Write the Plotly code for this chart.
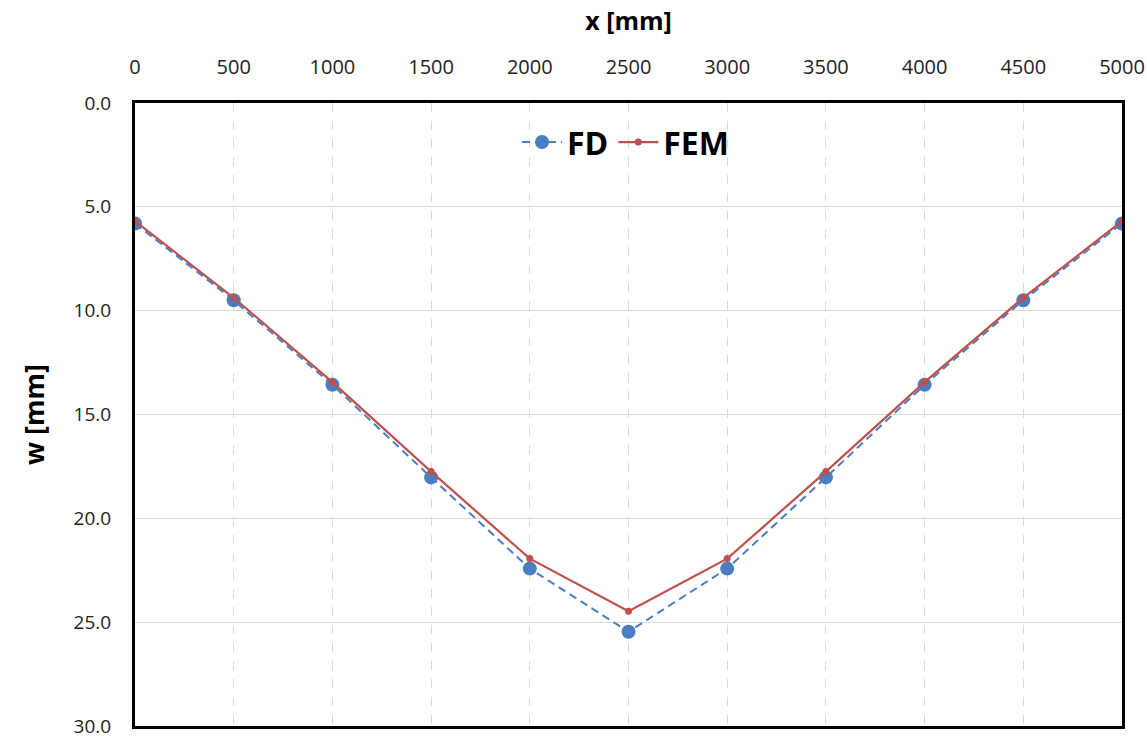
import plotly.graph_objects as go

# Deflection along the span
x_mm = [0, 500, 1000, 1500, 2000, 2500, 3000, 3500, 4000, 4500, 5000]
w_fd = [5.80, 9.50, 13.57, 18.03, 22.42, 25.46, 22.42, 18.03, 13.57, 9.50, 5.80]
w_fem = [5.69, 9.38, 13.44, 17.75, 21.94, 24.47, 21.94, 17.75, 13.44, 9.38, 5.69]

x_ticks = list(range(0, 5001, 500))
y_ticks = [0, 5, 10, 15, 20, 25, 30]
y_ticklabels = [f"{v:.1f}" for v in y_ticks]

FONT = "Open Sans, Lato, Liberation Sans, sans-serif"
BLUE = "#4A7EC2"
RED = "#C0504D"

fig = go.Figure()
fig.add_trace(go.Scatter(
    x=x_mm, y=w_fd, name="FD", mode="lines+markers",
    line=dict(color=BLUE, width=2, dash="8px,5px"),
    marker=dict(color=BLUE, size=14),
))
fig.add_trace(go.Scatter(
    x=x_mm, y=w_fem, name="FEM", mode="lines+markers",
    line=dict(color=RED, width=2.2),
    marker=dict(color=RED, size=7),
))

fig.update_layout(
    width=1147, height=736,
    margin=dict(l=135, r=25, t=103, b=10, autoexpand=False),
    paper_bgcolor="white", plot_bgcolor="white",
    font=dict(family=FONT, color="#222", size=20),
    showlegend=True,
    legend=dict(
        orientation="h", x=0.497, y=0.937, xanchor="center", yanchor="middle",
        font=dict(size=32, family=FONT, color="black", weight="bold"),
        bgcolor="rgba(0,0,0,0)", itemwidth=40, traceorder="normal",
    ),
    xaxis=dict(
        side="top", range=[0, 5000], tickvals=x_ticks,
        showgrid=True, gridcolor="#D9D9D9", griddash="dash", gridwidth=1,
        showline=True, linecolor="black", linewidth=3, mirror=True,
        zeroline=False, ticks="", ticklabelstandoff=18,
        ticklabeloverflow="allow",
        tickfont=dict(size=20),
        title=dict(text="x [mm]", standoff=16,
                   font=dict(size=25, family=FONT, color="black", weight="bold")),
    ),
    yaxis=dict(
        range=[30, 0], tickvals=y_ticks, ticktext=y_ticklabels,
        showgrid=True, gridcolor="#D9D9D9", gridwidth=1,
        showline=True, linecolor="black", linewidth=3, mirror=True,
        zeroline=False, ticks="", ticklabelstandoff=17,
        ticklabeloverflow="allow",
        tickfont=dict(size=19),
        title=dict(text="w [mm]", standoff=22,
                   font=dict(size=27, family=FONT, color="black", weight="bold")),
    ),
)

fig.write_html("out.html")
